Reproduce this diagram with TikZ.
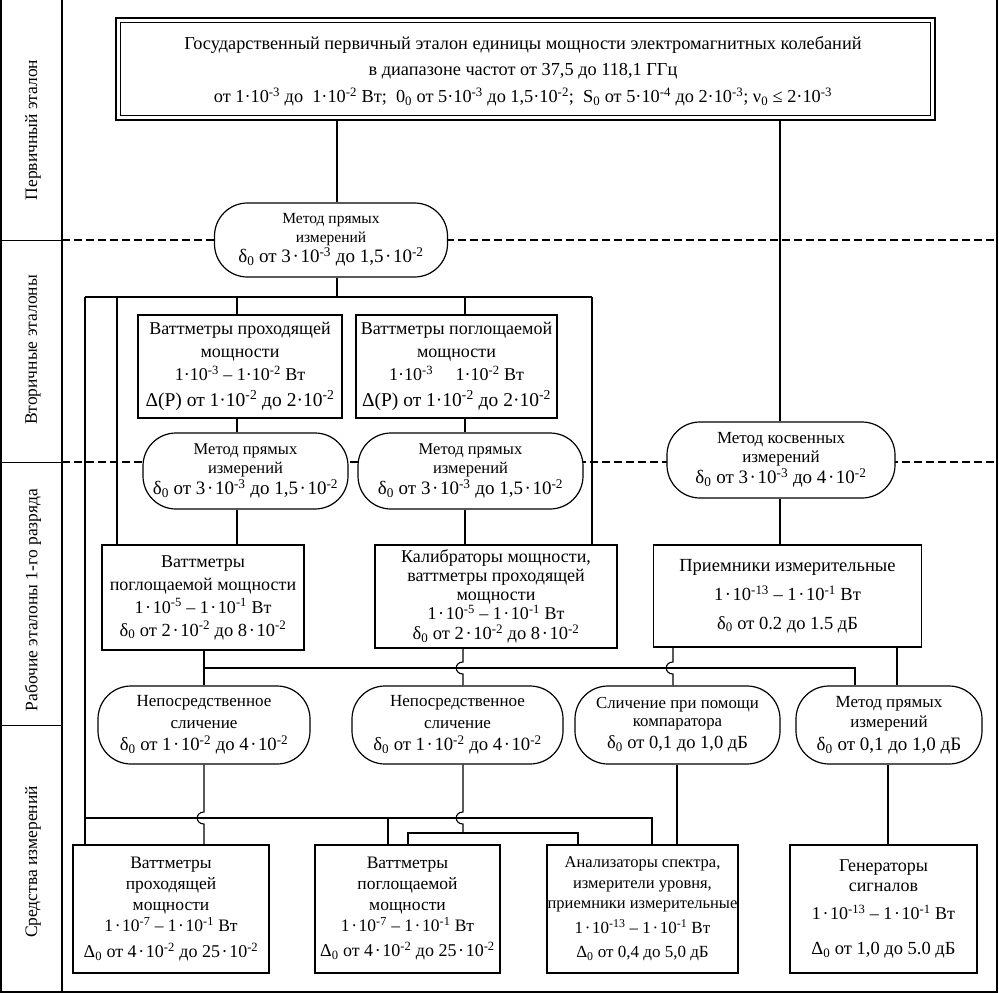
\documentclass[tikz,border=0pt]{standalone}
\usepackage{fontspec}
\setmainfont{Liberation Serif}
\usetikzlibrary{calc}
\newcommand{\pw}[1]{\textsuperscript{#1}}
\newcommand{\ix}[1]{\textsubscript{#1}}
\newcommand{\fsz}[2]{\fontsize{#1}{#2}\selectfont}
\newcommand{\md}{\kern1.6pt·\kern1.6pt}
\begin{document}
\begin{tikzpicture}[x=1pt,y=-1pt,
  box/.style={draw,line width=1.4pt,fill=white,inner sep=0pt,align=center,font=\fsz{18}{23}},
  oval/.style={draw,line width=1.2pt,fill=white,inner sep=0pt,align=center,rounded corners=33pt,font=\fsz{16.5}{19}},
  conn/.style={line width=1.1pt},
  sect/.style={line width=1.6pt,dash pattern=on 8pt off 4pt},
  lab/.style={rotate=90,font=\fsz{17.5}{20}}]
\useasboundingbox (0,0) rectangle (999,993);
% section separators
\coordinate (dL1) at (62,240); \coordinate (dR1) at (997,240);
\coordinate (dL2) at (62,462); \coordinate (dR2) at (997,462);
\draw[sect] (dL1) -- (dR1);
\draw[sect] (dL2) -- (dR2);
% frame and label column
\draw[line width=1.2pt] (1,0) -- (1,992) -- (997,992) -- (997,0);
\draw[line width=2.5pt] (62,0) -- (62,992);
\draw[line width=1pt] (1,240) -- (62,240);
\draw[line width=1pt] (1,462) -- (62,462);
\draw[line width=0.8pt] (1,725) -- (62,725);
\node[lab] (L1) at (33,130) {Первичный эталон};
\node[lab] (L2) at (33,350) {Вторичные эталоны};
\node[lab] (L3) at (33,600) {Рабочие эталоны 1-го разряда};
\node[lab] (L4) at (33,862) {Средства измерений};
% top box
\node[draw,line width=1.6pt,fill=white,inner sep=0pt,minimum width=819pt,minimum height=102pt] (top) at (525.5,69) {};
\draw[line width=0.9pt] ($(top.north west)+(5,5)$) rectangle ($(top.south east)+(-5,-5)$);
\node[align=center,inner sep=0pt,font=\fsz{18.3}{25.5}] (topt) at (523,71.5)
  {Государственный первичный эталон единицы мощности электромагнитных колебаний\\
   в диапазоне частот от 37,5 до 118,1 ГГц\\[2pt]
   от 1·10\pw{-3} до\ \ 1·10\pw{-2} Вт;\ \ 0\ix{0} от 5·10\pw{-3} до 1,5·10\pw{-2};\ \ S\ix{0} от 5·10\pw{-4} до 2·10\pw{-3}; ν\ix{0} ≤ 2·10\pw{-3}};
% level 1
\node[oval,minimum width=233pt,minimum height=74pt,font=\fsz{15.5}{19}] (e1) at (331,240)
  {Метод прямых\\измерений\\[1pt]{\fsz{19}{19}δ\ix{0} от 3\md 10\pw{-3} до 1,5\md 10\pw{-2}}};
% level 2 boxes
\node[box,minimum width=204pt,minimum height=103pt] (bA) at (240,366.5)
  {Ваттметры проходящей\\мощности\\1·10\pw{-3} – 1·10\pw{-2} Вт\\[3pt]{\fsz{19.5}{23}Δ(P) от 1·10\pw{-2} до 2·10\pw{-2}}};
\node[box,minimum width=201pt,minimum height=103pt] (bB) at (456.5,366.5)
  {Ваттметры поглощаемой\\мощности\\1·10\pw{-3}\quad\ 1·10\pw{-2} Вт\\[3pt]{\fsz{19.5}{23}Δ(P) от 1·10\pw{-2} до 2·10\pw{-2}}};
\node[oval,minimum width=205pt,minimum height=76pt] (e2a) at (245.5,471)
  {Метод прямых\\измерений\\[2pt]{\fsz{19}{19}δ\ix{0} от 3\md 10\pw{-3} до 1,5\md 10\pw{-2}}};
\node[oval,minimum width=225pt,minimum height=76pt] (e2b) at (470.5,471)
  {Метод прямых\\измерений\\[2pt]{\fsz{19}{19}δ\ix{0} от 3\md 10\pw{-3} до 1,5\md 10\pw{-2}}};
\node[oval,minimum width=228pt,minimum height=76pt,font=\fsz{17}{19}] (e2c) at (781,460)
  {Метод косвенных\\измерений\\[2pt]{\fsz{19}{19}δ\ix{0} от 3\md 10\pw{-3} до 4\md 10\pw{-2}}};
% level 3 boxes
\node[box,minimum width=202pt,minimum height=105pt] (bC) at (203,597.5)
  {Ваттметры\\поглощаемой мощности\\1\md 10\pw{-5} – 1\md 10\pw{-1} Вт\\{\fsz{18.5}{23}δ\ix{0} от 2\md 10\pw{-2} до 8\md 10\pw{-2}}};
\node[box,minimum width=242pt,minimum height=103pt,font=\fsz{18}{19}] (bD) at (496,596.5)
  {Калибраторы мощности,\\ваттметры проходящей\\мощности\\1\md 10\pw{-5} – 1\md 10\pw{-1} Вт\\[1pt]{\fsz{18.5}{19}δ\ix{0} от 2\md 10\pw{-2} до 8\md 10\pw{-2}}};
\node[box,minimum width=268pt,minimum height=102pt,font=\fsz{18.5}{29}] (bE) at (787.5,596)
  {Приемники измерительные\\1\md 10\pw{-13} – 1\md 10\pw{-1} Вт\\δ\ix{0} от 0.2 до 1.5 дБ};
% level 4 ovals
\node[oval,minimum width=212pt,minimum height=78pt,font=\fsz{17}{22}] (e4a) at (204,725)
  {Непосредственное\\сличение\\{\fsz{18.7}{22}δ\ix{0} от 1\md 10\pw{-2} до 4\md 10\pw{-2}}};
\node[oval,minimum width=211pt,minimum height=78pt,font=\fsz{17}{22}] (e4b) at (457.5,725)
  {Непосредственное\\сличение\\{\fsz{18.7}{22}δ\ix{0} от 1\md 10\pw{-2} до 4\md 10\pw{-2}}};
\node[oval,minimum width=205pt,minimum height=78pt,font=\fsz{16.8}{18}] (e4c) at (677.5,725)
  {Сличение при помощи\\компаратора\\[4pt]{\fsz{18.5}{18}δ\ix{0} от 0,1 до 1,0 дБ}};
\node[oval,minimum width=186pt,minimum height=78pt,font=\fsz{17}{20}] (e4d) at (889,725)
  {Метод прямых\\измерений\\[3pt]{\fsz{19}{20}δ\ix{0} от 0,1 до 1,0 дБ}};
% bottom boxes
\node[box,minimum width=196pt,minimum height=128pt,font=\fsz{17.5}{21}] (bF) at (171,909)
  {Ваттметры\\проходящей\\мощности\\1\md 10\pw{-7} – 1\md 10\pw{-1} Вт\\[5pt]{\fsz{18}{21}Δ\ix{0} от 4\md 10\pw{-2} до 25\md 10\pw{-2}}};
\node[box,minimum width=185pt,minimum height=128pt,font=\fsz{17.5}{21}] (bG) at (407.5,909)
  {Ваттметры\\поглощаемой\\мощности\\1\md 10\pw{-7} – 1\md 10\pw{-1} Вт\\[4pt]{\fsz{18}{21}Δ\ix{0} от 4\md 10\pw{-2} до 25\md 10\pw{-2}}};
\node[box,minimum width=191pt,minimum height=128pt,font=\fsz{16.5}{20.5}] (bH) at (642.5,909)
  {Анализаторы спектра,\\измерители уровня,\\приемники измерительные\\[4pt]{\fsz{17}{20.5}1\md 10\pw{-13} – 1\md 10\pw{-1} Вт}\\[4pt]{\fsz{17}{20.5}Δ\ix{0} от 0,4 до 5,0 дБ}};
\node[box,minimum width=187pt,minimum height=128pt,font=\fsz{18}{20}] (bI) at (883.5,909)
  {Генераторы\\сигналов\\[8pt]1\md 10\pw{-13} – 1\md 10\pw{-1} Вт\\[15pt]{\fsz{18.5}{20}Δ\ix{0} от 1,0 до 5.0 дБ}};
% guide coordinates
\coordinate (J1) at (337,297);
\coordinate (b1a) at (85,297);
\coordinate (b1b) at (117,297);
\coordinate (b1c) at (237,297);
\coordinate (b1d) at (465,297);
\coordinate (b1e) at (592,297);
\coordinate (x780) at (780,0);
\coordinate (b2a) at (204,668);
\coordinate (b2e) at (855,668);
\coordinate (h2d) at (463,668);
\coordinate (h2e) at (673,668);
\coordinate (x897) at (897,0);
\coordinate (b3a) at (85,818);
\coordinate (b3g) at (388,818);
\coordinate (b3e) at (652,818);
\coordinate (h3a) at (204,818);
\coordinate (h3b) at (463,818);
\coordinate (c3) at (463,833);
\coordinate (c3L) at (408,833);
\coordinate (c3R) at (578,833);
\coordinate (x677) at (677,0);
\coordinate (x888) at (888,0);
% connectors, level 1-2
\draw[conn] (top.south -| J1) -- (e1.north -| J1);
\draw[conn] (e1.south -| J1) -- (J1);
\draw[conn] (b1a) -- (b1e);
\draw[conn] (b1a) -- (bF.north -| b1a);
\draw[conn] (b1b) -- (bC.north -| b1b);
\draw[conn] (b1c) -- (bA.north -| b1c);
\draw[conn] (b1d) -- (bB.north -| b1d);
\draw[conn] (b1e) -- (bD.north -| b1e);
\draw[conn] (bA.south -| b1c) -- (e2a.north -| b1c);
\draw[conn] (e2a.south -| b1c) -- (bC.north -| b1c);
\draw[conn] (bB.south -| b1d) -- (e2b.north -| b1d);
\draw[conn] (e2b.south -| b1d) -- (bD.north -| b1d);
\draw[conn] (top.south -| x780) -- (e2c.north -| x780);
\draw[conn] (e2c.south -| x780) -- (bE.north -| x780);
% level 3-4
\draw[conn] (bC.south -| b2a) -- (e4a.north -| b2a);
\draw[conn] (b2a) -- (b2e) -- (e4d.north -| b2e);
\draw[conn] (bD.south -| h2d) -- ($(h2d)+(0,-6)$) .. controls ($(h2d)+(-9,-6)$) and ($(h2d)+(-9,6)$) .. ($(h2d)+(0,6)$) -- (e4b.north -| h2d);
\draw[conn] (bE.south -| h2e) -- ($(h2e)+(0,-6)$) .. controls ($(h2e)+(-9,-6)$) and ($(h2e)+(-9,6)$) .. ($(h2e)+(0,6)$) -- (e4c.north -| h2e);
\draw[conn] (bE.south -| x897) -- (e4d.north -| x897);
% level 4-5
\draw[conn] (b3a) -- (b3e) -- (bH.north -| b3e);
\draw[conn] (b3g) -- (bG.north -| b3g);
\draw[conn] (e4a.south -| h3a) -- ($(h3a)+(0,-6)$) .. controls ($(h3a)+(-9,-6)$) and ($(h3a)+(-9,6)$) .. ($(h3a)+(0,6)$) -- (bF.north -| h3a);
\draw[conn] (e4b.south -| h3b) -- ($(h3b)+(0,-6)$) .. controls ($(h3b)+(-9,-6)$) and ($(h3b)+(-9,6)$) .. ($(h3b)+(0,6)$) -- (c3);
\draw[conn] (bG.north -| c3L) -- (c3L) -- (c3R) -- (bH.north -| c3R);
\draw[conn] (e4c.south -| x677) -- (bH.north -| x677);
\draw[conn] (e4d.south -| x888) -- (bI.north -| x888);
\end{tikzpicture}
\end{document}
